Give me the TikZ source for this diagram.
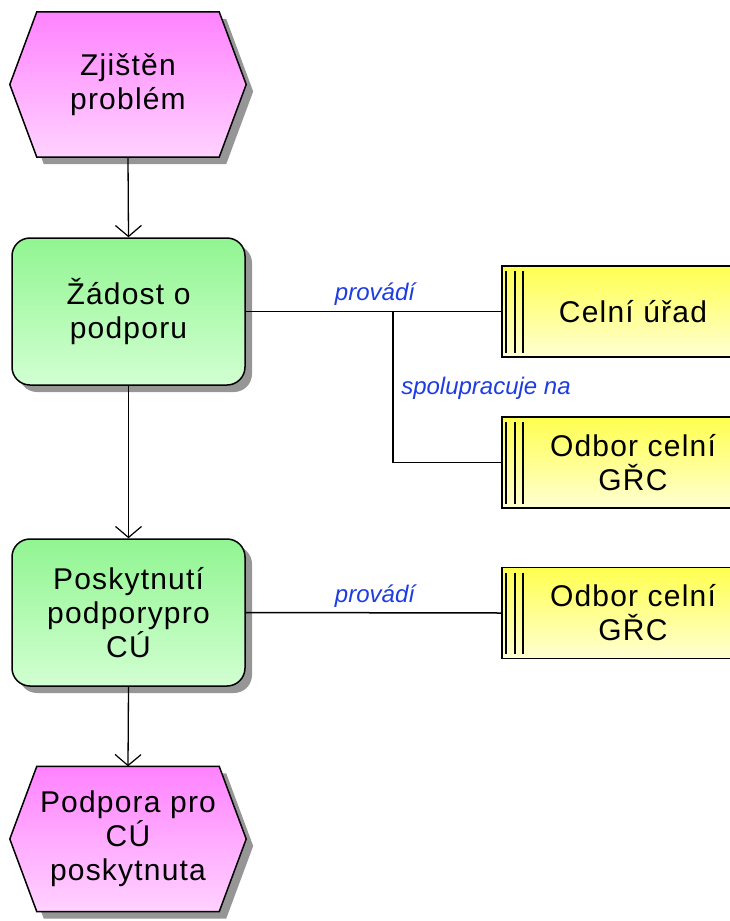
\documentclass[tikz,border=0pt]{standalone}
\usepackage{fontspec}
\setmainfont{Liberation Sans}
\newfontfamily\boxfont[LetterSpace=4]{Liberation Sans}
\newfontfamily\labfont{Liberation Sans}
\usetikzlibrary{arrows.meta,calc,shadows}
\pgfdeclarelayer{background}
\pgfsetlayers{background,main}
\definecolor{evtop}{RGB}{255,130,255}
\definecolor{evbot}{RGB}{255,210,255}
\definecolor{fntop}{RGB}{145,245,145}
\definecolor{fnbot}{RGB}{210,255,210}
\definecolor{ortop}{RGB}{255,255,80}
\definecolor{orbot}{RGB}{255,255,210}
\definecolor{labblue}{RGB}{30,60,225}
\definecolor{shadowgray}{RGB}{150,150,150}
\newcommand{\hexpath}[1]{(#1.west) -- ([xshift=27pt]#1.north west) -- ([xshift=-27pt]#1.north east) -- (#1.east) -- ([xshift=-27pt]#1.south east) -- ([xshift=27pt]#1.south west) -- cycle}
\tikzset{
  txt/.style={font=\boxfont\fontsize{30}{34}\selectfont, align=center, text=black},
  evbox/.style={txt, minimum width=236pt, minimum height=145pt, inner sep=0pt},
  fnbox/.style={txt, minimum width=233pt, minimum height=147pt, inner sep=0pt,
    draw=black, line width=1.5pt, rounded corners=18pt,
    top color=fntop, bottom color=fnbot,
    general shadow={fill=shadowgray, shadow xshift=7pt, shadow yshift=-7pt}},
  orbox/.style={txt, minimum width=268pt, minimum height=91pt, inner sep=0pt,
    draw=black, line width=1.5pt, top color=ortop, bottom color=orbot},
  lab/.style={font=\labfont\itshape\fontsize{24}{28}\selectfont, text=labblue, inner sep=0pt},
  flow/.style={line width=1.3pt, -{Straight Barb[length=11pt,width=26pt,line width=1.2pt]}},
  link/.style={line width=1.5pt},
}
\begin{document}
\begin{tikzpicture}[x=1pt,y=-1pt]
\useasboundingbox (0,0) rectangle (730,921);
\clip (0,0) rectangle (730,921);

% events and functions of the process chain
\node[evbox] (e1) at (128,84.5) {Zjištěn\\problém};
\node[fnbox] (f1) at (128.5,311.5) {Žádost o\\podporu};
\node[fnbox] (f2) at (128.5,612.5) {Poskytnutí\\podporypro\\CÚ};
\node[evbox] (e2) at (128,839) {Podpora pro\\CÚ\\poskytnuta};

% organisational units
\node[orbox] (o1) at (636,311.5) {\hspace*{-6pt}Celní úřad};
\node[orbox] (o2) at (636,462.5) {\hspace*{-6pt}Odbor celní\\\hspace*{-6pt}GŘC};
\node[orbox] (o3) at (636,613) {\hspace*{-6pt}Odbor celní\\\hspace*{-6pt}GŘC};
\foreach \o in {o1,o2,o3}{
  \foreach \dx in {5,14,22}{
    \draw[line width=1.8pt] ([xshift=\dx pt,yshift=-6pt]\o.north west) -- ([xshift=\dx pt,yshift=5pt]\o.south west);
  }
}

% hexagon outlines of the events, with their shadows
\begin{pgfonlayer}{background}
  \foreach \e in {e1,e2}{
    \begin{scope}[transform canvas={shift={(7pt,-7pt)}}]
      \fill[shadowgray] \hexpath{\e};
    \end{scope}
    \shade[top color=evtop, bottom color=evbot] \hexpath{\e};
    \draw[line width=1.5pt, line join=miter] \hexpath{\e};
  }
\end{pgfonlayer}

% control flow
\draw[flow] (e1.south) -- (f1.north);
\draw[flow] (f1.south) -- (f2.north);
\draw[flow] (f2.south) -- (e2.north);

% assignments
\coordinate (br) at (393,311.5);
\draw[link] (f1.east) -- (o1.west);
\draw[link] (br) |- (o2.west);
\draw[link] (f2.east) -- (o3.west);

\node[lab] (l1) at (375,294) {provádí};
\node[lab] (l2) at (486,388) {spolupracuje na};
\node[lab] (l3) at (375,596) {provádí};
\end{tikzpicture}
\end{document}
